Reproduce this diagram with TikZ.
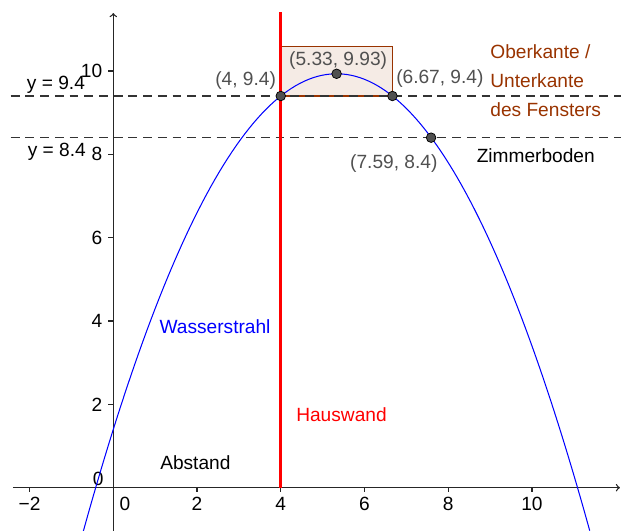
\documentclass[tikz,border=0pt]{standalone}
\usepackage{fontspec}
\setmainfont{Liberation Sans}
\usetikzlibrary{arrows}
\definecolor{wasser}{RGB}{0,0,255}
\definecolor{wand}{RGB}{255,0,0}
\definecolor{fenster}{RGB}{153,51,0}
\definecolor{punkt}{RGB}{80,80,80}

\begin{document}
\begin{tikzpicture}[x=1cm,y=0.9952cm,>=to,font=\fontsize{13}{15.6}\selectfont,
  achse/.style={line width=0.9pt,draw=black!85},
  hilfslinie/.style={dash pattern=on 6pt off 4pt,line width=0.75pt,draw=black!80},
  pkt/.style={circle,draw=black,fill=punkt,inner sep=0pt,minimum size=6.5pt,line width=0.5pt},
  pktlabel/.style={text=punkt,anchor=base,inner sep=0pt},
  zahl/.style={inner sep=0pt}]
\useasboundingbox (-2.706,-1.039) rectangle (12.126,11.704);

% Achsen
\draw[achse,->] (-2.4,0) -- (12.1,0);
\draw[achse,->] (0,-1.04) -- (0,11.39);
\foreach \x/\t in {-2/−2,2/2,4/4,6/6,8/8,10/10}
  \draw[achse] (\x,0) -- (\x,-0.1) node[zahl] at (\x,-0.39) {\t};
\foreach \y in {2,4,...,10}
  \draw[achse] (0,\y) -- (-0.12,\y) node[zahl,anchor=east] at (-0.25,\y) {\y};
\node[zahl] (nullx) at (0.28,-0.39) {0};
\node[zahl] (nully) at (-0.36,0.21) {0};

% Fenster
\draw[fenster,fill=fenster!10,line width=0.8pt] (4,9.4) rectangle (6.667,10.58);

% Hilfslinien
\coordinate (h1a) at (-2.45,9.4);
\coordinate (h1b) at (12.13,9.4);
\coordinate (h2a) at (-2.45,8.4);
\coordinate (h2b) at (12.13,8.4);
\draw[hilfslinie] (h1a) -- (h1b);
\draw[hilfslinie] (h2a) -- (h2b);
\node[zahl,anchor=base] (g1) at (-1.37,9.56) {y = 9.4};
\node[zahl,anchor=base] (g2) at (-1.35,7.94) {y = 8.4};

% Hauswand
\coordinate (w1) at (4,0);
\coordinate (w2) at (4,11.42);
\draw[wand,line width=2.1pt] (w1) -- (w2);

% Wasserstrahl
\draw[wasser,line width=0.7pt] plot[domain=-0.72:11.38,samples=120] (\x,{-0.3*(\x-16/3)^2+9.9333});

% Punkte
\node[pkt] (p1) at (4,9.4) {};
\node[pkt] (p2) at (5.333,9.933) {};
\node[pkt] (p3) at (6.667,9.4) {};
\node[pkt] (p4) at (7.59,8.4) {};
\node[pktlabel] (l1) at (3.16,9.64) {(4, 9.4)};
\node[pktlabel] (l2) at (5.37,10.14) {(5.33, 9.93)};
\node[pktlabel] (l3) at (7.80,9.70) {(6.67, 9.4)};
\node[pktlabel] (l4) at (6.70,7.66) {(7.59, 8.4)};

% Beschriftungen
\node[text=fenster,anchor=base west,align=left,inner sep=0pt,font=\fontsize{13}{19.8}\selectfont] (fen) at (9.0,8.91) {Oberkante /\\Unterkante\\des Fensters};
\node (boden) at (10.09,7.98) {Zimmerboden};
\node[text=wasser] (strahl) at (2.43,3.86) {Wasserstrahl};
\node[text=wand] (haus) at (5.45,1.75) {Hauswand};
\node (abst) at (1.96,0.59) {Abstand};
\end{tikzpicture}
\end{document}
